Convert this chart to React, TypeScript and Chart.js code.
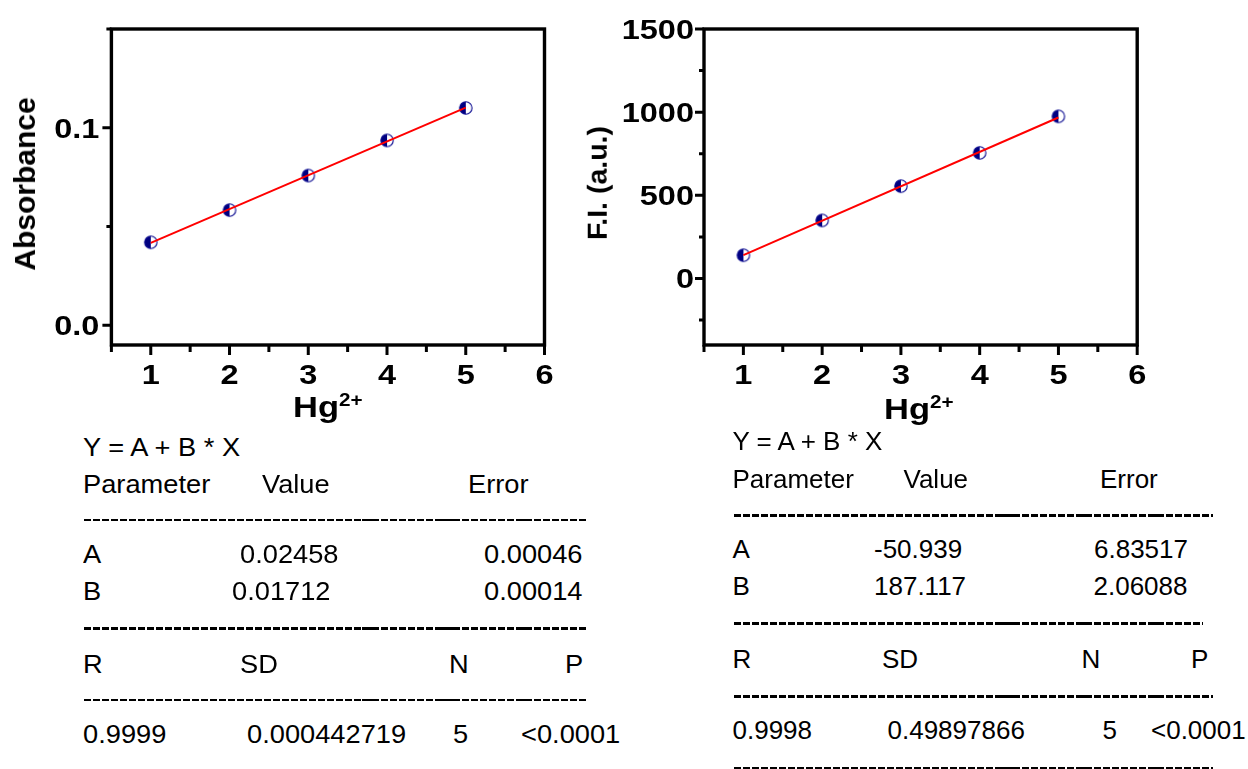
import React, { useEffect, useRef } from "react";
import { Chart, registerables } from "chart.js";

Chart.register(...registerables);

const FONT = 'Arial, "Liberation Sans", Helvetica, sans-serif';

// Hg2+ levels on the x axis
const hgLevels = [1, 2, 3, 4, 5];

// UV-vis absorbance readings and the fitted line endpoints
const absorbance = [0.042, 0.0583, 0.0758, 0.0936, 0.11];
const absFitX = [1, 5];
const absFitY = [0.0417, 0.1102];

// fluorescence intensity readings and the fitted line endpoints
const fluorescence = [140, 349, 555, 755, 975];
const fluorFitX = [1, 5];
const fluorFitY = [140, 968];

// axis ticks
const xMajorTicks = [1, 2, 3, 4, 5, 6];
const xMinorTicks = [0.5, 1.5, 2.5, 3.5, 4.5, 5.5];
const xTickLabels = ["1", "2", "3", "4", "5", "6"];
const absMajorTicks = [0, 0.1];
const absMinorTicks = [0.05, 0.15];
const absTickLabels = ["0.0", "0.1"];
const fluorMajorTicks = [0, 500, 1000, 1500];
const fluorMinorTicks = [-250, 250, 750, 1250];
const fluorTickLabels = ["0", "500", "1000", "1500"];

// linear fit reports
const fitEquation = "Y = A + B * X";
const paramHeaders = ["Parameter", "Value", "Error"];
const paramNames = ["A", "B"];
const statHeaders = ["R", "SD", "N", "P"];
const absParamValues = ["0.02458", "0.01712"];
const absParamErrors = ["0.00046", "0.00014"];
const absStats = ["0.9999", "0.000442719", "5", "<0.0001"];
const fluorParamValues = ["-50.939", "187.117"];
const fluorParamErrors = ["6.83517", "2.06088"];
const fluorStats = ["0.9998", "0.49897866", "5", "<0.0001"];

const TICK_FONT = 28;
const TICK_STRETCH = 1.16;

// circle marker with the left half filled
function halfFilledMarker(): HTMLCanvasElement {
  const c = document.createElement("canvas");
  c.width = 16;
  c.height = 16;
  const g = c.getContext("2d")!;
  const cx = 8;
  const cy = 8;
  const r = 6.2;
  g.fillStyle = "#ffffff";
  g.beginPath();
  g.arc(cx, cy, r, 0, Math.PI * 2);
  g.fill();
  g.fillStyle = "#000080";
  g.beginPath();
  g.arc(cx, cy, r, Math.PI / 2, Math.PI * 1.5);
  g.closePath();
  g.fill();
  g.strokeStyle = "#0a0a90";
  g.lineWidth = 1.1;
  g.beginPath();
  g.arc(cx, cy, r, 0, Math.PI * 2);
  g.stroke();
  return c;
}

function stretchedText(
  ctx: CanvasRenderingContext2D,
  text: string,
  x: number,
  y: number,
  align: CanvasTextAlign
) {
  ctx.save();
  ctx.translate(x, y);
  ctx.scale(TICK_STRETCH, 1);
  ctx.textAlign = align;
  ctx.fillText(text, 0, 0);
  ctx.restore();
}

type PanelProps = {
  left: number;
  width: number;
  height: number;
  axisWidth: number;
  padRight: number;
  labelGap: number;
  values: number[];
  fitX: number[];
  fitY: number[];
  yMin: number;
  yMax: number;
  yMajor: number[];
  yMinor: number[];
  yLabels: string[];
};

function Panel(p: PanelProps) {
  const ref = useRef<HTMLCanvasElement | null>(null);

  useEffect(() => {
    const canvas = ref.current;
    if (!canvas) return;
    const marker = halfFilledMarker();

    const boxAxes = {
      id: "boxAxes",
      afterDraw(chart: any) {
        const { ctx, chartArea: a } = chart;
        const xs = chart.scales.x;
        const ys = chart.scales.y;
        ctx.save();
        ctx.strokeStyle = "#000";
        ctx.lineWidth = 3.4;
        ctx.lineCap = "butt";
        ctx.strokeRect(a.left, a.top, a.right - a.left, a.bottom - a.top);
        ctx.lineWidth = 3;
        ctx.beginPath();
        xMajorTicks.forEach((v) => {
          const px = xs.getPixelForValue(v);
          ctx.moveTo(px, a.bottom);
          ctx.lineTo(px, a.bottom + 10);
        });
        xMinorTicks.forEach((v) => {
          const px = xs.getPixelForValue(v);
          ctx.moveTo(px, a.bottom);
          ctx.lineTo(px, a.bottom + 7);
        });
        p.yMajor.forEach((v) => {
          const py = ys.getPixelForValue(v);
          ctx.moveTo(a.left, py);
          ctx.lineTo(a.left - 9, py);
        });
        p.yMinor.forEach((v) => {
          const py = ys.getPixelForValue(v);
          ctx.moveTo(a.left, py);
          ctx.lineTo(a.left - 5, py);
        });
        ctx.stroke();

        ctx.fillStyle = "#000";
        ctx.font = `bold ${TICK_FONT}px ${FONT}`;
        ctx.textBaseline = "alphabetic";
        xMajorTicks.forEach((v, i) =>
          stretchedText(ctx, xTickLabels[i], xs.getPixelForValue(v), a.bottom + 38.5, "center")
        );
        p.yMajor.forEach((v, i) =>
          stretchedText(
            ctx,
            p.yLabels[i],
            a.left - p.labelGap,
            ys.getPixelForValue(v) + TICK_FONT * 0.355,
            "right"
          )
        );
        ctx.restore();
      },
    };

    const chart = new Chart(canvas, {
      type: "scatter",
      data: {
        datasets: [
          {
            data: p.fitX.map((x, i) => ({ x, y: p.fitY[i] })),
            showLine: true,
            borderColor: "#ff0000",
            borderWidth: 2,
            pointRadius: 0,
            order: 0,
          },
          {
            data: hgLevels.map((x, i) => ({ x, y: p.values[i] })),
            pointStyle: marker as any,
            pointRadius: 7,
            showLine: false,
            order: 1,
          },
        ],
      } as any,
      options: {
        animation: false,
        responsive: false,
        devicePixelRatio: 1,
        events: [],
        plugins: { legend: { display: false }, tooltip: { enabled: false } },
        layout: { padding: { top: 29, right: p.padRight, left: 0, bottom: 0 } },
        scales: {
          x: {
            type: "linear",
            min: 0.5,
            max: 6,
            grid: { display: false },
            border: { display: false },
            ticks: { display: false },
            afterFit: (s: any) => {
              s.height = p.height - 345;
            },
          },
          y: {
            type: "linear",
            min: p.yMin,
            max: p.yMax,
            grid: { display: false },
            border: { display: false },
            ticks: { display: false },
            afterFit: (s: any) => {
              s.width = p.axisWidth;
            },
          },
        },
      } as any,
      plugins: [boxAxes],
    });
    return () => chart.destroy();
  }, []);

  return (
    <canvas
      ref={ref}
      width={p.width}
      height={p.height}
      style={{ position: "absolute", left: p.left, top: 0, width: p.width, height: p.height }}
    />
  );
}

function Txt(props: {
  x: number;
  base: number;
  size: number;
  sx?: number;
  bold?: boolean;
  children: React.ReactNode;
}) {
  const { x, base, size, sx = 1, bold = false, children } = props;
  return (
    <div
      style={{
        position: "absolute",
        left: x,
        top: base - 0.8465 * size,
        fontSize: size,
        lineHeight: `${size}px`,
        fontFamily: FONT,
        fontWeight: bold ? "bold" : "normal",
        whiteSpace: "nowrap",
        color: "#000",
        transform: `scaleX(${sx})`,
        transformOrigin: "left center",
      }}
    >
      {children}
    </div>
  );
}

function VTitle(props: { cx: number; cy: number; size: number; children: React.ReactNode }) {
  return (
    <div
      style={{
        position: "absolute",
        left: props.cx,
        top: props.cy,
        fontSize: props.size,
        lineHeight: `${props.size}px`,
        fontFamily: FONT,
        fontWeight: "bold",
        whiteSpace: "nowrap",
        color: "#000",
        transform: "translate(-50%, -50%) rotate(-90deg)",
      }}
    >
      {props.children}
    </div>
  );
}

function XTitle(props: { x: number; base: number }) {
  return (
    <Txt x={props.x} base={props.base} size={30} sx={1.15} bold>
      Hg
      <span style={{ fontSize: 18, lineHeight: 1, position: "relative", top: -11 }}>2+</span>
    </Txt>
  );
}

type ReportLayout = {
  size: number;
  sx: number;
  rows: number[];
  col0: number;
  headerX: number[];
  valueX: number[];
  errorX: number[];
  statHeaderX: number[];
  statX: number[];
  rules: { y: number; x0: number; x1: number }[];
  longDashes: number[];
};

function Rule(props: { y: number; x0: number; x1: number; longDashes: number[] }) {
  const { y, x0, x1, longDashes } = props;
  return (
    <>
      <div
        style={{
          position: "absolute",
          left: x0,
          top: y - 1.3,
          width: x1 - x0,
          height: 2.6,
          background: "repeating-linear-gradient(90deg, #000 0px, #000 6.6px, transparent 6.6px, transparent 9px)",
        }}
      />
      {longDashes
        .filter((d) => d + 14 <= x1)
        .map((d, i) => (
          <div
            key={i}
            style={{ position: "absolute", left: d, top: y - 1.3, width: 15, height: 2.6, background: "#000" }}
          />
        ))}
    </>
  );
}

function Report(props: {
  L: ReportLayout;
  values: string[];
  errors: string[];
  stats: string[];
}) {
  const { L, values, errors, stats } = props;
  const t = (x: number, base: number, s: string, k: string) => (
    <Txt key={k} x={x} base={base} size={L.size} sx={L.sx}>
      {s}
    </Txt>
  );
  return (
    <>
      {t(L.col0, L.rows[0], fitEquation, "eq")}
      {t(L.col0, L.rows[1], paramHeaders[0], "h0")}
      {t(L.headerX[0], L.rows[1], paramHeaders[1], "h1")}
      {t(L.headerX[1], L.rows[1], paramHeaders[2], "h2")}
      {paramNames.map((n, i) => (
        <React.Fragment key={n}>
          {t(L.col0, L.rows[2 + i], n, "n" + i)}
          {t(L.valueX[i], L.rows[2 + i], values[i], "v" + i)}
          {t(L.errorX[i], L.rows[2 + i], errors[i], "e" + i)}
        </React.Fragment>
      ))}
      {t(L.col0, L.rows[4], statHeaders[0], "s0")}
      {statHeaders.slice(1).map((h, i) => t(L.statHeaderX[i], L.rows[4], h, "sh" + i))}
      {t(L.col0, L.rows[5], stats[0], "st0")}
      {stats.slice(1).map((s, i) => t(L.statX[i], L.rows[5], s, "st" + (i + 1)))}
      {L.rules.map((r, i) => (
        <Rule key={"r" + i} y={r.y} x0={r.x0} x1={r.x1} longDashes={L.longDashes} />
      ))}
    </>
  );
}

const absReportLayout: ReportLayout = {
  size: 25,
  sx: 1.09,
  rows: [456, 492.7, 563.3, 600, 673.3, 743.3],
  col0: 83,
  headerX: [262, 468],
  valueX: [239.5, 231.5],
  errorX: [484, 484],
  statHeaderX: [240, 448.5, 564.5],
  statX: [246.5, 453, 521],
  rules: [
    { y: 520, x0: 84, x1: 585.5 },
    { y: 628.3, x0: 84, x1: 585.5 },
    { y: 700, x0: 84, x1: 585.5 },
  ],
  longDashes: [362, 440, 516],
};

const fluorReportLayout: ReportLayout = {
  size: 26,
  sx: 1,
  rows: [450, 487.7, 557.7, 595, 668.3, 739],
  col0: 732.5,
  headerX: [903.5, 1100],
  valueX: [874, 874],
  errorX: [1094, 1093.5],
  statHeaderX: [882, 1081.5, 1191],
  statX: [887.5, 1102.5, 1151],
  rules: [
    { y: 515.7, x0: 733.5, x1: 1212.6 },
    { y: 623.3, x0: 733.5, x1: 1203.2 },
    { y: 696.7, x0: 733.5, x1: 1212.6 },
    { y: 768.3, x0: 733.5, x1: 1212.6 },
  ],
  longDashes: [999, 1077, 1148],
};

export default function App() {
  return (
    <div
      style={{
        position: "fixed",
        left: 0,
        top: 0,
        width: 1248,
        height: 769,
        background: "#fff",
        overflow: "hidden",
      }}
    >
      <Panel
        left={0}
        width={575}
        height={400}
        axisWidth={111.4}
        padRight={30.5}
        labelGap={12}
        values={absorbance}
        fitX={absFitX}
        fitY={absFitY}
        yMin={-0.01}
        yMax={0.15}
        yMajor={absMajorTicks}
        yMinor={absMinorTicks}
        yLabels={absTickLabels}
      />
      <Panel
        left={575}
        width={673}
        height={400}
        axisWidth={129}
        padRight={110.8}
        labelGap={10}
        values={fluorescence}
        fitX={fluorFitX}
        fitY={fluorFitY}
        yMin={-400}
        yMax={1500}
        yMajor={fluorMajorTicks}
        yMinor={fluorMinorTicks}
        yLabels={fluorTickLabels}
      />
      <VTitle cx={25} cy={183.5} size={30}>
        Absorbance
      </VTitle>
      <VTitle cx={597} cy={182.5} size={28.5}>
        F.I. (a.u.)
      </VTitle>
      <XTitle x={292.5} base={417} />
      <XTitle x={884} base={419} />
      <Report L={absReportLayout} values={absParamValues} errors={absParamErrors} stats={absStats} />
      <Report L={fluorReportLayout} values={fluorParamValues} errors={fluorParamErrors} stats={fluorStats} />
    </div>
  );
}
